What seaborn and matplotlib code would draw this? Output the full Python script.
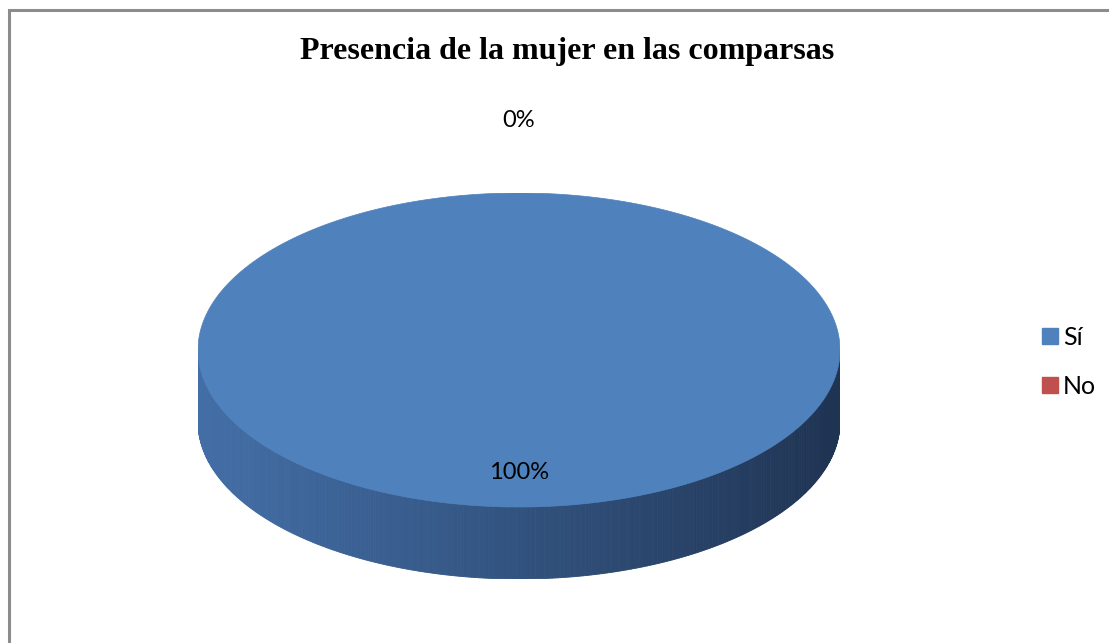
import numpy as np
import matplotlib
matplotlib.use("Agg")
import matplotlib.pyplot as plt
import matplotlib.patches as mpatches
from matplotlib.colors import to_rgb
import seaborn as sns

# Survey answers
categories = ["Sí", "No"]
values = [100, 0]
title = "Presencia de la mujer en las comparsas"

sns.set_style("white")
plt.rcParams["font.family"] = ["Lato", "DejaVu Sans"]
plt.rcParams["text.color"] = "black"

palette = ["#4F81BD", "#C0504D"]

W, H = 1109, 643
fig = plt.figure(figsize=(W / 100, H / 100), dpi=100)

# Chart frame
frame = mpatches.Rectangle((8.5 / W, -0.1), 1.2, (H - 10) / H + 0.1,
                           transform=fig.transFigure, fill=False,
                           edgecolor="#8C8C8C", linewidth=2.2)
fig.patches.append(frame)

# Pie axes: unit radius horizontally, squashed vertically, with depth below
cx, cy, a, b, depth = 519, 350, 321, 157, 72
d = depth / b
ax = fig.add_axes([(cx - a) / W, (H - (cy + b + depth)) / H, 2 * a / W, (2 * b + depth) / H])
ax.set_xlim(-1, 1)
ax.set_ylim(-1 - d, 1)
ax.axis("off")

fracs = np.array(values, dtype=float) / sum(values)
# Start at 12 o'clock, clockwise
start = 90.0
angles = []
for f in fracs:
    end = start - 360 * f
    angles.append((end, start))
    start = end

# Side wall of the front half, shaded from left to right
base_side = np.array([0.26, 0.43, 0.65])
dark_side = np.array([0.12, 0.20, 0.32])
ts = np.linspace(np.pi, 2 * np.pi, 361)
for (t1, t2) in zip(ts[:-1], ts[1:]):
    # find the slice owning this angle
    tm = np.degrees((t1 + t2) / 2) % 360
    idx = 0
    for i, (e, s) in enumerate(angles):
        lo, hi = e % 360, s % 360
        if fracs[i] >= 1 or (lo <= tm <= hi if lo <= hi else (tm >= lo or tm <= hi)):
            idx = i
            break
    col = np.array(to_rgb(palette[idx]))
    u = (np.cos((t1 + t2) / 2) + 1) / 2  # 0 at left, 1 at right
    shade = base_side + (dark_side - base_side) * u ** 1.1
    shade = shade * (col / np.array(to_rgb(palette[0])))
    shade = np.clip(shade, 0, 1)
    xs = [np.cos(t1), np.cos(t2), np.cos(t2), np.cos(t1)]
    ys = [np.sin(t1), np.sin(t2), np.sin(t2) - d, np.sin(t1) - d]
    ax.fill(xs, ys, color=shade, lw=0.6, ec=shade, zorder=1)

# Top face
for i, (e, s) in enumerate(angles):
    if fracs[i] <= 0:
        continue
    tt = np.radians(np.linspace(e, s, 721))
    xs = np.concatenate([[0], np.cos(tt)]) if fracs[i] < 1 else np.cos(tt)
    ys = np.concatenate([[0], np.sin(tt)]) if fracs[i] < 1 else np.sin(tt)
    ax.fill(xs, ys, color=palette[i], lw=0.5, ec=palette[i], zorder=2)

# Percentage labels
for i, (e, s) in enumerate(angles):
    mid = np.radians((e + s) / 2)
    r = 0.78 if fracs[i] > 0.5 else 1.46
    ax.text(r * np.cos(mid), r * np.sin(mid), f"{values[i] / sum(values):.0%}",
            ha="center", va="center", fontsize=17, color="black", zorder=3)

fig.text(567 / W, 1 - 51 / H, title, ha="center", va="center", color="black",
         fontsize=23, fontweight="bold", family=["Liberation Serif", "DejaVu Serif"])

handles = [mpatches.Patch(color=c, label=l) for c, l in zip(palette, categories)]
fig.legend(handles=handles, loc="center left", bbox_to_anchor=(1029 / W, 1 - 362 / H),
           frameon=False, fontsize=18, handlelength=0.64, handleheight=0.64,
           handletextpad=0.22, labelspacing=1.04, borderpad=0)

fig.savefig("out.png", dpi=100)
